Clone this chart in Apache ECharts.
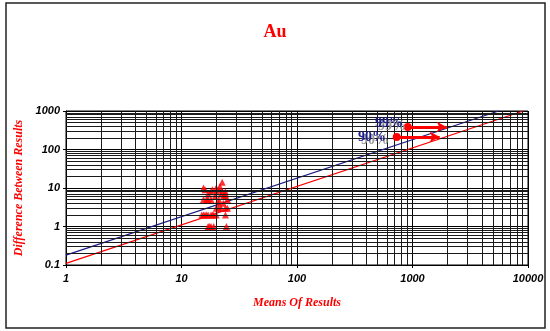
<!DOCTYPE html>
<html lang="en">
<head>
  <meta charset="UTF-8">
  <title>Au</title>
  <style>
    html, body { margin: 0; padding: 0; background: #fff; }
    #chart { width: 550px; height: 331px; }
  </style>
</head>
<body>
  <div id="chart"></div>
  <script src="https://cdn.jsdelivr.net/npm/echarts@6/dist/echarts.min.js"></script>
  <script>
    // duplicate assays: mean of the pair vs difference between them
    const meanValues = [17, 17.5, 18, 19, 24.5,
      15, 15.5, 16, 16.5, 17, 18, 18.5, 19, 20, 24,
      20, 21, 22, 24, 25,
      21, 23,
      15.5, 16.5, 17, 18, 21, 25,
      19.5, 23, 24,
      17, 22, 24,
      18, 20, 22.5, 24,
      16, 18.5, 21,
      15.5, 20,
      21.5,
      22.5];
    const diffValues = [1, 1, 1, 1, 1,
      2, 2, 2, 2, 2, 2, 2, 2, 2, 2,
      3, 3, 3, 3, 3,
      4, 4,
      5, 5, 5, 5, 5, 5,
      6, 6, 6,
      7, 7, 7,
      8, 8, 8, 8,
      9, 9, 9,
      10, 10,
      11,
      14];

    // control lines (99% and 90%)
    const line99 = [[1, 0.18], [5556, 1000]];
    const line90 = [[1, 0.11], [9091, 1000]];
    // arrows pointing at the lines
    const arrow99 = [[910, 385], [1980, 385]];
    const arrow90 = [[730, 212], [1720, 212]];

    const xTicks = [1, 10, 100, 1000, 10000];
    const yTicks = [0.1, 1, 10, 100, 1000];

    const red = '#ff0000';
    const navy = '#1c1c8a';

    // minor grid lines at 2..9 of each decade
    function minors(ticks) {
      const out = [];
      for (let i = 0; i < ticks.length - 1; i++) {
        for (let m = 2; m <= 9; m++) out.push(+(ticks[i] * m).toPrecision(3));
      }
      return out;
    }
    const gridLines = minors(xTicks).map(v => ({ xAxis: v }))
      .concat(minors(yTicks).map(v => ({ yAxis: v })));

    const points = meanValues.map((m, i) => [m, diffValues[i]]);
    const plain = v => String(+(+v).toPrecision(6));

    const chart = echarts.init(document.getElementById('chart'));
    const option = {
      animation: false,
      title: {
        text: 'Au',
        left: 'center',
        top: 18,
        textStyle: { color: red, fontFamily: 'Liberation Serif', fontWeight: 'bold', fontSize: 18 }
      },
      grid: { left: 66, right: 22, top: 111, bottom: 66, show: true, borderColor: '#000', borderWidth: 1 },
      xAxis: {
        type: 'log', logBase: 10, min: 1, max: 10000,
        name: 'Means Of Results', nameLocation: 'middle', nameGap: 32,
        nameTextStyle: { color: red, fontFamily: 'Liberation Serif', fontWeight: 'bold', fontStyle: 'italic', fontSize: 12 },
        axisLine: { lineStyle: { color: '#000' } },
        axisTick: { show: true, length: 3, lineStyle: { color: '#000' } },
        axisLabel: { color: '#000', fontFamily: 'Liberation Sans', fontWeight: 'bold', fontStyle: 'italic', fontSize: 11, margin: 8, formatter: plain },
        splitLine: { show: true, lineStyle: { color: '#000', width: 1 } }
      },
      yAxis: {
        type: 'log', logBase: 10, min: 0.1, max: 1000,
        name: 'Difference Between Results', nameLocation: 'middle', nameGap: 38,
        nameTextStyle: { color: red, fontFamily: 'Liberation Serif', fontWeight: 'bold', fontStyle: 'italic', fontSize: 12 },
        axisLine: { lineStyle: { color: '#000' } },
        axisTick: { show: true, length: 3, lineStyle: { color: '#000' } },
        axisLabel: { color: '#000', fontFamily: 'Liberation Sans', fontWeight: 'bold', fontStyle: 'italic', fontSize: 11, margin: 6, formatter: plain },
        splitLine: { show: true, lineStyle: { color: '#000', width: 1 } }
      },
      series: [
        {
          type: 'line', data: [], z: 1, silent: true,
          markLine: {
            silent: true, symbol: 'none', label: { show: false },
            lineStyle: { color: '#1a1a1a', type: 'solid', width: 1 },
            emphasis: { disabled: true },
            data: gridLines
          }
        },
        {
          type: 'line', data: line99, showSymbol: false, z: 3,
          lineStyle: { color: navy, width: 1.3 }
        },
        {
          type: 'line', data: line90, showSymbol: false, z: 3,
          lineStyle: { color: red, width: 1.3 }
        },
        {
          type: 'scatter', data: points, symbol: 'triangle', symbolSize: 7, z: 4,
          itemStyle: { color: red }
        },
        {
          type: 'line', data: [], z: 5, silent: true,
          markLine: {
            silent: true, symbol: ['circle', 'arrow'], symbolSize: [8, 10],
            label: { show: false },
            lineStyle: { color: red, type: 'solid', width: 3 },
            data: [
              [{ coord: arrow99[0] }, { coord: arrow99[1] }],
              [{ coord: arrow90[0] }, { coord: arrow90[1] }]
            ]
          }
        }
      ],
      graphic: [
        { type: 'rect', shape: { x: 6, y: 3, width: 539, height: 325 }, style: { fill: 'none', stroke: '#222', lineWidth: 1.5 }, z: 0, silent: true },
        { type: 'text', x: 392, y: 126, style: { text: '99%', fill: '#999', font: 'bold 14px "Liberation Serif"', align: 'center', verticalAlign: 'middle' }, z: 10 },
        { type: 'text', x: 389, y: 123, style: { text: '99%', fill: navy, font: 'bold 14px "Liberation Serif"', align: 'center', verticalAlign: 'middle' }, z: 11 },
        { type: 'text', x: 375, y: 140, style: { text: '90%', fill: '#999', font: 'bold 14px "Liberation Serif"', align: 'center', verticalAlign: 'middle' }, z: 10 },
        { type: 'text', x: 372, y: 137, style: { text: '90%', fill: navy, font: 'bold 14px "Liberation Serif"', align: 'center', verticalAlign: 'middle' }, z: 11 }
      ]
    };
    chart.setOption(option);
  </script>
</body>
</html>
